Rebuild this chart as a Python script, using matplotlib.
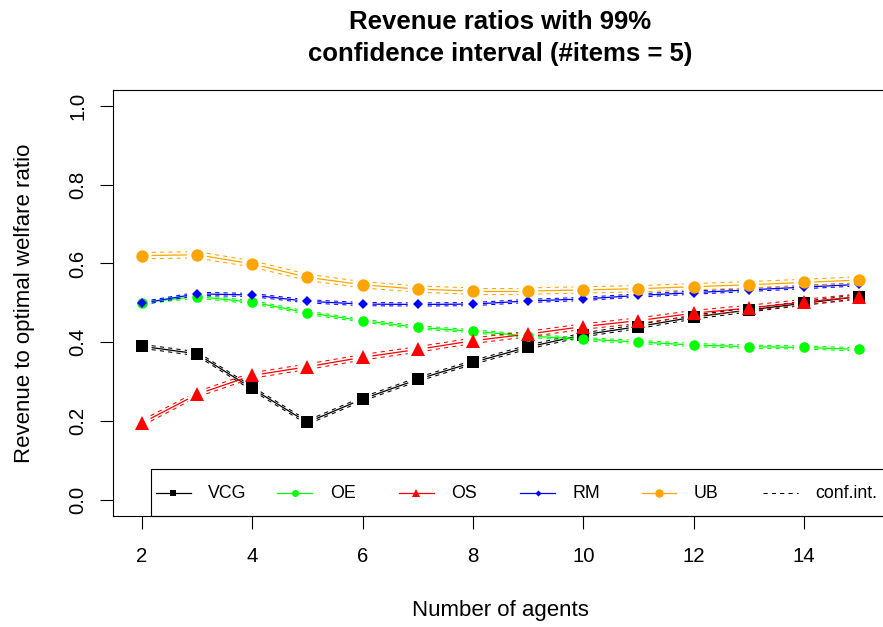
import numpy as np
import matplotlib
matplotlib.use("Agg")
import matplotlib.pyplot as plt
from matplotlib.patches import Rectangle

plt.rcParams['font.family'] = ['Liberation Sans', 'DejaVu Sans']

# dane
agents = [2, 3, 4, 5, 6, 7, 8, 9, 10, 11, 12, 13, 14, 15]
vcg = [0.390, 0.371, 0.283, 0.197, 0.256, 0.306, 0.349, 0.388, 0.419, 0.440, 0.464, 0.482, 0.499, 0.516]
oe = [0.501, 0.516, 0.502, 0.475, 0.455, 0.438, 0.428, 0.416, 0.408, 0.401, 0.393, 0.389, 0.387, 0.382]
os_ = [0.195, 0.268, 0.316, 0.338, 0.362, 0.382, 0.404, 0.421, 0.440, 0.455, 0.474, 0.487, 0.502, 0.516]
rm = [0.499, 0.523, 0.520, 0.504, 0.497, 0.496, 0.497, 0.505, 0.510, 0.519, 0.526, 0.533, 0.540, 0.547]
ub = [0.620, 0.622, 0.599, 0.565, 0.546, 0.535, 0.530, 0.530, 0.533, 0.536, 0.541, 0.546, 0.552, 0.558]

# polowa szerokosci przedzialu ufnosci 99%
ci_half = [0.005, 0.004, 0.007, 0.004, 0.008]

names = ["VCG", "OE", "OS", "RM", "UB"]
colors = ["black", "#00FF00", "#FF0000", "#0000FF", "#FFA500"]
markers = ["s", "o", "^", "D", "o"]
msizes = [8.4, 7.6, 9.4, 4.8, 8.9]
leg_msizes = [4.3, 5.0, 5.8, 3.1, 6.1]

xticks = [2, 4, 6, 8, 10, 12, 14]
yticks = [0.0, 0.2, 0.4, 0.6, 0.8, 1.0]

W, H = 883, 627
fig = plt.figure(figsize=(W / 100, H / 100), dpi=100)
# obszar wykresu jak w R (prawa krawedz wychodzi poza obrazek)
L, R, T, B = 113, 888, 90, 515.8
ax = fig.add_axes([L / W, 1 - B / H, (R - L) / W, (B - T) / H])
ax.set_xlim(1.48, 15.52)
ax.set_ylim(-0.04, 1.04)

for s in ax.spines.values():
    s.set_linewidth(0.8)

ax.set_xticks(xticks)
ax.set_yticks(yticks)
ax.set_yticklabels([f"{v:.1f}" for v in yticks])
ax.tick_params(length=9.7, width=0.8, labelsize=14.7)
ax.tick_params(axis='x', pad=13)
ax.tick_params(axis='y', pad=9, labelrotation=90)
plt.setp(ax.get_yticklabels(), va='center')

ax.set_xlabel("Number of agents", fontsize=16, labelpad=24)
ax.set_ylabel("Revenue to optimal welfare ratio", fontsize=16, labelpad=24)
ax.set_title("Revenue ratios with 99%\nconfidence interval (#items = 5)",
             fontsize=18.5, fontweight='bold', pad=21, linespacing=1.4)


def linia_z_przerwami(x, y, color, ls, lw, gap=10, z=2):
    # jak type="b" w R: odcinki skrocone przy punktach
    pts = ax.transData.transform(np.column_stack([x, y]))
    inv = ax.transData.inverted()
    for p0, p1 in zip(pts[:-1], pts[1:]):
        d = p1 - p0
        n = np.hypot(d[0], d[1])
        if n <= 2 * gap:
            continue
        u = d / n
        a, b = inv.transform([p0 + u * gap, p1 - u * gap])
        ax.plot([a[0], b[0]], [a[1], b[1]], color=color, ls=ls, lw=lw,
                zorder=z, solid_capstyle='butt', dash_capstyle='butt')


series = [vcg, oe, os_, rm, ub]
for i, vals in enumerate(series):
    v = np.array(vals)
    z = 2 + i
    linia_z_przerwami(agents, v + ci_half[i], colors[i], (0, (4, 4)), 0.75, z=z)
    linia_z_przerwami(agents, v - ci_half[i], colors[i], (0, (4, 4)), 0.75, z=z)
    linia_z_przerwami(agents, v, colors[i], '-', 0.9, z=z)
    ax.plot(agents, v, ls='none', marker=markers[i], ms=msizes[i],
            mew=0, color=colors[i], zorder=z + 0.5)

# legenda rysowana recznie (rowne kolumny jak w R)
def ax_x(px):
    return (px - L) / (R - L)

leg_top = 469.3
leg_y = (B - 493) / (B - T)
ax.add_patch(Rectangle((ax_x(150.7), 0), 1.2, (B - leg_top) / (B - T),
                       transform=ax.transAxes, fill=False, lw=0.8,
                       clip_on=False, zorder=20))
step = 121.4
for i in range(6):
    s = 156 + step * i
    if i < 5:
        ax.plot([ax_x(s), ax_x(s + 34.7)], [leg_y, leg_y], color=colors[i],
                lw=0.9, transform=ax.transAxes, clip_on=False, zorder=21)
        ax.plot([ax_x(s + 17.35)], [leg_y], marker=markers[i], ms=leg_msizes[i],
                mew=0, color=colors[i], transform=ax.transAxes,
                clip_on=False, zorder=22)
        lab = names[i]
    else:
        ax.plot([ax_x(s), ax_x(s + 34.7)], [leg_y, leg_y], color="black",
                lw=0.75, ls=(0, (4, 4)), transform=ax.transAxes,
                clip_on=False, zorder=21)
        lab = "conf.int."
    ax.text(ax_x(s + 52.3), leg_y, lab, fontsize=12.75, va='center',
            ha='left', transform=ax.transAxes, zorder=22)

fig.savefig("out.png", dpi=100)
